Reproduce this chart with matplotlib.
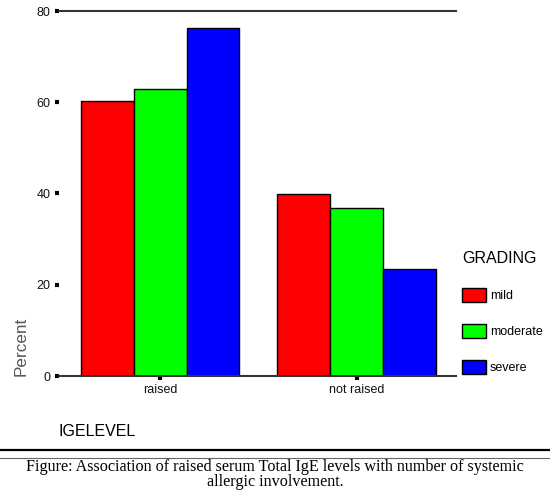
import numpy as np
import matplotlib
matplotlib.use("Agg")
import matplotlib.pyplot as plt
from matplotlib.lines import Line2D

levels = ["raised", "not raised"]
grades = ["mild", "moderate", "severe"]
mild = [60.3, 39.9]
moderate = [62.8, 36.8]
severe = [76.3, 23.4]
colors = ["#ff0000", "#00ff00", "#0000ff"]

plt.rcParams["font.family"] = ["Liberation Sans", "DejaVu Sans"]

fig = plt.figure(figsize=(5.5, 4.98), dpi=100)
ax = fig.add_axes([59 / 550, 122 / 498, 397 / 550, 365 / 498])

x = np.arange(len(levels))
w = 0.269
for i, (vals, c) in enumerate(zip([mild, moderate, severe], colors)):
    ax.bar(x + (i - 1) * w, vals, w, color=c, edgecolor="black", linewidth=1, label=grades[i])

ax.set_xlim(-0.513, 1.503)
ax.set_ylim(0, 80)
ax.set_yticks([0, 20, 40, 60, 80])
ax.set_xticks(x)
ax.set_xticklabels(levels)

for s in ["left", "right"]:
    ax.spines[s].set_visible(False)
for s in ["top", "bottom"]:
    ax.spines[s].set_color("#333333")
    ax.spines[s].set_linewidth(1.5)

ax.tick_params(axis="y", length=3, width=3, pad=3, labelsize=9, color="black", labelcolor="#111111")
ax.tick_params(axis="x", length=3, width=3, pad=3, labelsize=9, color="black", labelcolor="#111111")

ax.set_ylabel("Percent", loc="bottom", fontsize=12.3, color="#5a5550", labelpad=6)
ax.set_xlabel("IGELEVEL", loc="left", fontsize=11.5, labelpad=20)

leg = ax.legend(title="GRADING", loc="upper left",
                bbox_to_anchor=(462 / 550, 1 - 251 / 498), bbox_transform=fig.transFigure,
                frameon=False, fontsize=9, title_fontsize=11.5, borderpad=0, borderaxespad=0,
                handlelength=1.92, handleheight=1.36, labelspacing=1.74, handletextpad=0.32,
                alignment="left")

fig.add_artist(Line2D([0, 1], [1 - 450 / 498] * 2, transform=fig.transFigure, color="black", linewidth=1.6))
fig.add_artist(Line2D([0, 1], [1 - 458 / 498] * 2, transform=fig.transFigure, color="#666666", linewidth=0.8))

caption = "Figure: Association of raised serum Total IgE levels with number of systemic\nallergic involvement."
fig.text(0.5, 1 - 459 / 498, caption, ha="center", va="top", fontsize=11.6,
         family=["Liberation Serif", "DejaVu Serif"], linespacing=0.9)

fig.savefig("out.png", dpi=100)
